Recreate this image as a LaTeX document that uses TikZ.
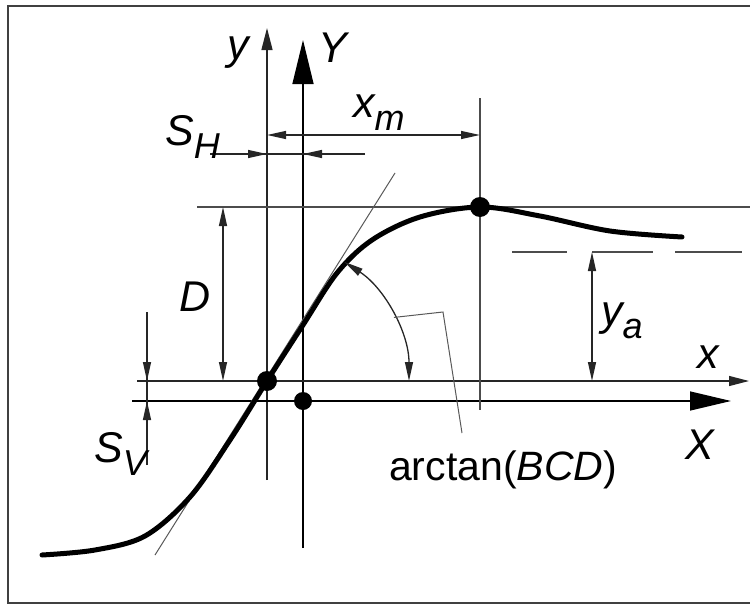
\documentclass[tikz,border=0pt]{standalone}
\usepackage{fontspec}
\setmainfont{Liberation Sans}
\usetikzlibrary{arrows.meta}
\newcommand\lowsub[1]{\raisebox{-0.32em}{\fontsize{36}{36}\selectfont #1}}
\begin{document}
\begin{tikzpicture}[x=1pt,y=-1pt,
  thinline/.style={line width=1.3pt, draw=black!85},
  extline/.style={line width=1.2pt, draw=black!70},
  tangline/.style={line width=1pt, draw=black!65},
  curveline/.style={line width=5pt, draw=black, line cap=round, line join=round},
  dimtip/.style={-{Triangle[length=19pt,width=8pt]}},
  dimboth/.style={{Triangle[length=19pt,width=8pt]}-{Triangle[length=19pt,width=8pt]}},
  lbl/.style={inner sep=0pt, font=\fontsize{43}{43}\selectfont\itshape},
  dot/.style={fill=black}]
\useasboundingbox (0,0) rectangle (750,605);
\clip (0,0) rectangle (750,605);
% frame
\draw[line width=2.2pt, black!75] (770,6) -- (8,6) -- (8,603) -- (770,603);

% key coordinates
\coordinate (O1) at (267,381);   % inflection / small-axis origin
\coordinate (O2) at (303,401);   % big-axis origin
\coordinate (M)  at (480,207);   % maximum

% axes
\coordinate (ybot) at (267,480);
\coordinate (ytop) at (267,28);
\draw[thinline, -{Triangle[length=22pt,width=11pt]}] (ybot) -- (ytop);
\coordinate (Ybot) at (303,548);
\coordinate (Ytop) at (303,40);
\draw[line width=1.4pt, -{Triangle[length=44pt,width=21pt]}] (Ybot) -- (Ytop);
\coordinate (xl) at (137,381);
\coordinate (xr) at (749,381);
\draw[thinline, -{Triangle[length=20pt,width=10pt]}] (xl) -- (xr);
\coordinate (Xl) at (132,401);
\coordinate (Xr) at (731,401);
\draw[line width=1.4pt, -{Triangle[length=41pt,width=19pt]}] (Xl) -- (Xr);

% top horizontal and extension at maximum
\coordinate (tl) at (197,207);
\coordinate (tr) at (750,207);
\draw[extline] (tl) -- (tr);
\coordinate (et) at (480,98);
\coordinate (eb) at (480,410);
\draw[extline] (et) -- (eb);

% x_m dimension
\coordinate (xm1) at (267,135);
\coordinate (xm2) at (480,135);
\draw[thinline, dimboth] (xm1) -- (xm2);
% S_H dimension
\coordinate (sh0) at (210,154);
\coordinate (sh1) at (267,154);
\coordinate (sh2) at (303,154);
\coordinate (sh3) at (365,154);
\draw[thinline] (sh0) -- (sh3);
\draw[thinline, dimtip] (sh0) -- (sh1);
\draw[thinline, dimtip] (sh3) -- (sh2);
% D dimension
\coordinate (d1) at (223,207);
\coordinate (d2) at (223,381);
\draw[thinline, dimboth] (d1) -- (d2);
% S_V dimension
\coordinate (sv0) at (147,312);
\coordinate (sv1) at (147,381);
\coordinate (sv2) at (147,401);
\coordinate (sv3) at (147,465);
\draw[thinline] (sv0) -- (sv3);
\draw[thinline, dimtip] (sv0) -- (sv1);
\draw[thinline, dimtip] (sv3) -- (sv2);
% y_a dimension and dashed asymptote
\coordinate (a1) at (512,252);
\coordinate (a2) at (742,252);
\draw[extline, dash pattern=on 55pt off 25pt on 61pt off 22pt on 67pt off 30pt] (a1) -- (a2);
\coordinate (ya1) at (592,252);
\coordinate (ya2) at (592,381);
\draw[thinline, dimboth] (ya1) -- (ya2);

% tangent line
\coordinate (t1) at (155,555);
\coordinate (t2) at (395,173);
\draw[tangline] (t1) -- (t2);

% curve
\draw[curveline] plot[smooth, tension=0.55] coordinates {
 (42,555) (95,550) (145,536) (190,497) (230,440) (267,381) (303,325)
 (337,273) (372,240) (420,217) (480,207) (540,216) (610,231) (682,237)};

% angle arc
\draw[thinline, dimboth] (O1) ++(57:142pt) arc[start angle=57, end angle=0, radius=142pt];
% leader
\path (O1) ++(26.6:142pt) coordinate (L1);
\coordinate (L2) at (443,312);
\coordinate (L3) at (462,433);
\draw[tangline] (L1) -- (L2) -- (L3);

% dots
\fill[dot] (O1) circle[radius=10pt];
\fill[dot] (O2) circle[radius=9pt];
\fill[dot] (M) circle[radius=10pt];

% labels
\node[lbl] (ly) at (238,53) {y};
\node[lbl] (lY) at (333,48) {Y};
\node[lbl, anchor=base west] (lxm) at (353,117) {x\lowsub{m}};
\node[lbl, anchor=base west] (lsh) at (165,145) {S\lowsub{H}};
\node[lbl] (lD) at (195,297) {D};
\node[lbl, anchor=base west] (lsv) at (94,462) {S\lowsub{V}};
\node[lbl, anchor=base west] (lya) at (601,325) {y\lowsub{a}};
\node[lbl] (lx) at (708,357) {x};
\node[lbl] (lX) at (700,445) {X};
\node[inner sep=0pt, anchor=base west, font=\fontsize{41}{41}\selectfont] (larc) at (389,480) {arctan(\textit{BCD})};
\end{tikzpicture}
\end{document}
